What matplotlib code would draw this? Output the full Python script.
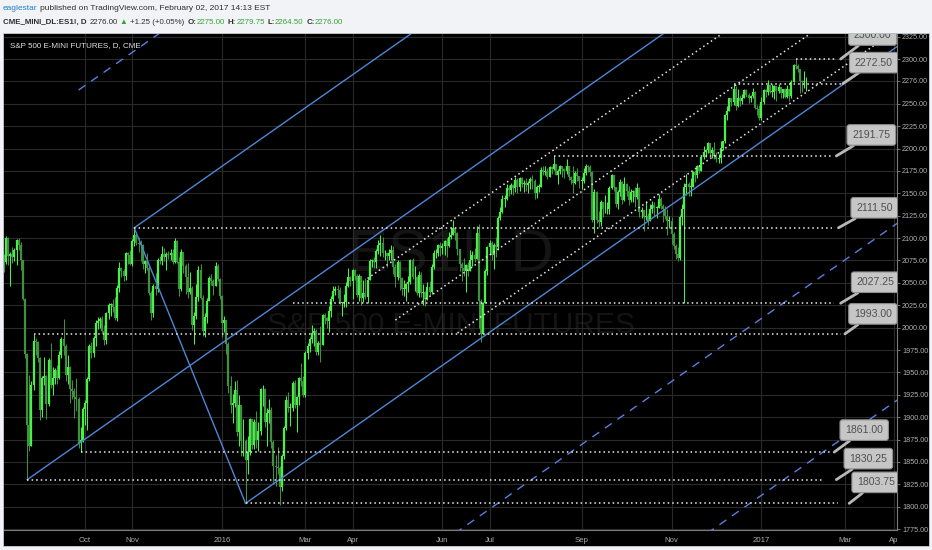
import matplotlib
matplotlib.use("Agg")
import matplotlib.pyplot as plt
from matplotlib.patches import Rectangle
import numpy as np
import pandas as pd

FONT = ["Liberation Sans", "DejaVu Sans"]
plt.rcParams["font.family"] = FONT

W, H = 932, 550

# trading calendar (CME closed days skipped)
holidays = ["2015-09-07", "2015-11-26", "2015-12-25", "2016-01-01", "2016-01-18",
            "2016-02-15", "2016-03-25", "2016-05-30", "2016-07-04", "2016-09-05",
            "2016-11-24", "2016-12-26", "2017-01-02", "2017-01-16", "2017-02-20"]
first_day = "2015-08-07"
first_open = 2080

# daily closes, ES1!
close = [
    # 2015 Aug
    2073, 2100, 2080, 2082, 2079, 2087, 2098, 2092, 2075, 2032, 1971, 1891, 1868, 1936, 1985, 1984, 1966,
    # Sep
    1908, 1944, 1946, 1915, 1964, 1936, 1944, 1953, 1944, 1970, 1987, 1980, 1947, 1956, 1932, 1929, 1922, 1920, 1871, 1874, 1909,
    # Oct
    1916, 1943, 1979, 1972, 1988, 2005, 2007, 2010, 1996, 1986, 2016, 2025, 2026, 2023, 2011, 2044, 2067, 2063, 2058, 2083, 2081, 2071,
    # Nov
    2097, 2103, 2095, 2093, 2092, 2071, 2074, 2067, 2039, 2016, 2046, 2043, 2076, 2074, 2082, 2079, 2082, 2081, 2083, 2073,
    # Dec
    2097, 2073, 2043, 2085, 2069, 2056, 2040, 2044, 2003, 2013, 2034, 2064, 2033, 1996, 2012, 2030, 2055, 2052, 2047, 2069, 2054, 2035,
    # 2016 Jan
    2005, 2008, 1982, 1935, 1914, 1916, 1930, 1883, 1914, 1873, 1873, 1852, 1861, 1898, 1869, 1895, 1875, 1885, 1931,
    # Feb
    1931, 1895, 1905, 1908, 1872, 1845, 1844, 1843, 1822, 1857, 1888, 1919, 1910, 1910, 1938, 1914, 1922, 1944, 1940, 1925,
    # Mar
    1972, 1980, 1987, 1994, 1996, 1973, 1983, 1981, 2014, 2011, 2007, 2019, 2032, 2041, 2043, 2042, 2028, 2028, 2029, 2047, 2056, 2052,
    # Apr
    2064, 2058, 2037, 2058, 2033, 2039, 2034, 2053, 2074, 2075, 2073, 2086, 2092, 2094, 2083, 2083, 2080, 2083, 2087, 2068, 2057,
    # May
    2073, 2055, 2043, 2043, 2049, 2051, 2076, 2056, 2056, 2039, 2059, 2039, 2040, 2032, 2045, 2040, 2068, 2083, 2083, 2092, 2089,
    # Jun
    2091, 2097, 2091, 2101, 2104, 2111, 2106, 2088, 2071, 2067, 2063, 2070, 2063, 2075, 2081, 2077, 2106, 2030, 1993, 2028, 2063, 2090,
    # Jul
    2095, 2081, 2092, 2090, 2122, 2129, 2144, 2144, 2156, 2154, 2159, 2156, 2165, 2157, 2167, 2160, 2161, 2159, 2162, 2166,
    # Aug
    2164, 2150, 2157, 2157, 2176, 2174, 2175, 2168, 2179, 2177, 2183, 2171, 2175, 2180, 2177, 2175, 2180, 2168, 2165, 2162, 2173, 2169, 2164,
    # Sep
    2164, 2173, 2180, 2179, 2174, 2120, 2151, 2120, 2118, 2140, 2132, 2132, 2133, 2156, 2170, 2157, 2138, 2152, 2163, 2143, 2160,
    # Oct
    2153, 2143, 2152, 2153, 2146, 2156, 2129, 2131, 2124, 2125, 2119, 2132, 2137, 2134, 2134, 2144, 2136, 2132, 2125, 2119, 2119,
    # Nov
    2105, 2091, 2082, 2078, 2124, 2132, 2157, 2160, 2157, 2157, 2174, 2170, 2180, 2175, 2191, 2196, 2198, 2206, 2195, 2198, 2192,
    # Dec
    2188, 2189, 2201, 2208, 2237, 2242, 2256, 2252, 2266, 2248, 2257, 2253, 2257, 2265, 2260, 2256, 2259, 2263, 2245, 2244, 2234,
    # 2017 Jan
    2252, 2265, 2263, 2271, 2263, 2263, 2270, 2264, 2269, 2262, 2266, 2258, 2266, 2259, 2274, 2293, 2292, 2289, 2275, 2274,
    # Feb
    2275, 2276,
]

high = [
    2082, 2102, 2101, 2085, 2090, 2089, 2099, 2100, 2096, 2076, 2033, 1972, 1947, 1940, 1993, 1988, 1985,
    1967, 1946, 1967, 1947, 1966, 1983, 1956, 1955, 1958, 1974, 1990, 2010, 1982, 1970, 1957, 1941, 1933, 1944, 1922, 1889, 1911,
    1919, 1945, 1982, 1984, 1991, 2008, 2012, 2012, 2013, 2003, 2018, 2027, 2027, 2032, 2034, 2048, 2073, 2068, 2066, 2085, 2085, 2087,
    2099, 2111.5, 2107, 2101, 2098, 2093, 2076, 2083, 2069, 2041, 2049, 2061, 2078, 2080, 2091, 2089, 2084, 2086, 2088, 2088,
    2100, 2098, 2079, 2088, 2085, 2071, 2072, 2062, 2046, 2017, 2049, 2069, 2071, 2036, 2016, 2033, 2058, 2060, 2054, 2073, 2071, 2055,
    2036, 2013, 2009, 1984, 1946, 1926, 1940, 1942, 1925, 1913, 1898, 1876, 1879, 1899, 1898, 1898, 1907, 1895, 1933,
    1936, 1933, 1910, 1920, 1911, 1874, 1858, 1867, 1845, 1859, 1890, 1924, 1928, 1916, 1940, 1941, 1924, 1945, 1960, 1946,
    1974, 1983, 1990, 2003, 2000, 1998, 1985, 2002, 2015, 2016, 2012, 2024, 2035, 2046, 2047, 2048, 2045, 2029, 2038, 2051, 2067, 2058,
    2066, 2066, 2060, 2060, 2053, 2053, 2055, 2055, 2077, 2077, 2079, 2088, 2098, 2104, 2101, 2087, 2082, 2088, 2092, 2091, 2071,
    2075, 2074, 2057, 2053, 2050, 2058, 2077, 2078, 2069, 2058, 2063, 2062, 2049, 2041, 2051, 2052, 2071, 2087, 2088, 2093, 2096,
    2095, 2098, 2100, 2107, 2112, 2120, 2111, 2107, 2088, 2073, 2078, 2071, 2073, 2087, 2086, 2089, 2113, 2116, 2032, 2029, 2065, 2091,
    2098, 2097, 2094, 2101, 2125, 2135, 2148, 2148, 2160, 2159, 2161, 2160, 2168, 2167, 2168, 2168, 2165, 2167, 2164, 2168,
    2171, 2166, 2159, 2160, 2179, 2180, 2180, 2178, 2181, 2181, 2191.75, 2183, 2177, 2182, 2180, 2178, 2188, 2180, 2169, 2180, 2175, 2178, 2168,
    2168, 2178, 2183, 2182, 2182, 2175, 2155, 2153, 2130, 2143, 2140, 2148, 2140, 2158, 2172, 2169, 2156, 2154, 2166, 2164, 2168,
    2162, 2158, 2155, 2154, 2157, 2162, 2157, 2135, 2130, 2141, 2128, 2138, 2141, 2140, 2136, 2149, 2146, 2138, 2136, 2132, 2125,
    2124, 2107, 2093, 2090, 2126, 2138, 2161, 2172, 2163, 2167, 2175, 2176, 2182, 2181, 2192, 2203, 2199, 2207, 2205, 2202, 2207,
    2196, 2194, 2208, 2209, 2239, 2247, 2257, 2257, 2272.5, 2270, 2266, 2260, 2261, 2267, 2266, 2262, 2260, 2268, 2264, 2249, 2249,
    2258, 2266, 2266, 2277, 2271, 2272, 2271, 2270, 2272, 2267, 2267, 2268, 2271, 2267, 2277, 2294, 2300, 2294, 2288, 2277,
    2287, 2279.75,
]

low = [
    2062, 2071, 2070, 2046, 2072, 2074, 2070, 2087, 2064, 2031, 1966, 1830.25, 1862, 1868, 1930, 1970, 1962,
    1897, 1900, 1936, 1898, 1912, 1933, 1925, 1937, 1937, 1943, 1966, 1970, 1940, 1937, 1916, 1920, 1899, 1907, 1866, 1861, 1872,
    1891, 1886, 1940, 1966, 1967, 1979, 1999, 2000, 1994, 1981, 1982, 2010, 2013, 2018, 2008, 2007, 2040, 2056, 2052, 2053, 2071, 2070,
    2069, 2091, 2092, 2085, 2074, 2065, 2061, 2064, 2036, 2008, 2012, 2037, 2040, 2071, 2070, 2074, 2064, 2077, 2076, 2071,
    2072, 2072, 2035, 2041, 2061, 2038, 2033, 2038, 1997, 1982, 2010, 2030, 2032, 1991, 1990, 2005, 2030, 2048, 2036, 2046, 2052, 2032,
    1990, 1995, 1971, 1927, 1905, 1893, 1911, 1879, 1868, 1857, 1857, 1803.75, 1836, 1858, 1865, 1864, 1866, 1862, 1880,
    1912, 1889, 1868, 1893, 1866, 1825, 1823, 1837, 1802, 1818, 1853, 1886, 1906, 1890, 1907, 1910, 1883, 1914, 1935, 1922,
    1922, 1965, 1973, 1983, 1979, 1970, 1969, 1962, 1993, 2004, 2000, 1995, 2012, 2030, 2036, 2033, 2026, 2013, 2023, 2023, 2045, 2047,
    2032, 2053, 2034, 2030, 2025, 2029, 2032, 2027, 2053, 2068, 2067, 2067, 2082, 2080, 2079, 2075, 2068, 2076, 2075, 2060, 2045,
    2053, 2042, 2036, 2035, 2030, 2040, 2049, 2054, 2041, 2036, 2034, 2034, 2025, 2024, 2031, 2037, 2038, 2066, 2078, 2080, 2080,
    2082, 2081, 2079, 2090, 2099, 2103, 2098, 2081, 2063, 2052, 2058, 2040, 2058, 2064, 2069, 2073, 2079, 2000, 1984, 1998, 2029, 2059,
    2082, 2075, 2065, 2079, 2087, 2120, 2128, 2135, 2143, 2147, 2149, 2148, 2152, 2150, 2153, 2157, 2152, 2153, 2150, 2155,
    2155, 2144, 2145, 2151, 2157, 2170, 2171, 2166, 2168, 2172, 2176, 2170, 2160, 2172, 2168, 2167, 2172, 2165, 2160, 2150, 2160, 2164, 2156,
    2155, 2162, 2170, 2174, 2169, 2118, 2106, 2117, 2112, 2114, 2124, 2128, 2127, 2127, 2155, 2153, 2135, 2132, 2147, 2138, 2141,
    2147, 2137, 2140, 2140, 2135, 2144, 2124, 2122, 2108, 2120, 2115, 2119, 2128, 2125, 2123, 2134, 2133, 2118, 2121, 2104, 2111,
    2093, 2088, 2077, 2074, 2076, 2115, 2027.25, 2148, 2147, 2147, 2158, 2163, 2167, 2173, 2176, 2188, 2191, 2195, 2193, 2190, 2188,
    2185, 2184, 2184, 2198, 2206, 2232, 2242, 2248, 2249, 2243, 2246, 2248, 2250, 2256, 2258, 2251, 2252, 2257, 2244, 2237, 2232,
    2232, 2250, 2258, 2260, 2262, 2258, 2255, 2253, 2262, 2257, 2257, 2256, 2257, 2253, 2256, 2275, 2289, 2285, 2262, 2263,
    2268, 2264.5,
]

# time axis labels
month_ticks = ["2015-10-01", "2015-11-02", "2016-01-04", "2016-03-01", "2016-04-01", "2016-06-01",
               "2016-07-01", "2016-09-01", "2016-11-01", "2017-01-03", "2017-03-01", "2017-04-03"]
month_labels = ["Oct", "Nov", "2016", "Mar", "Apr", "Jun", "Jul", "Sep", "Nov", "2017", "Mar", "Ap"]
price_ticks = [1775, 1800, 1825, 1850, 1875, 1900, 1925, 1950, 1975, 2000, 2025, 2050, 2075,
               2100, 2125, 2150, 2175, 2200, 2225, 2250, 2276, 2300, 2325]

# pitchfork pivots (blue)
fork_dates = ["2015-08-24", "2015-11-03", "2016-01-20"]
fork_prices = [1830.25, 2111.50, 1803.75]
fork_levels = [2, -2, -3]

# white dotted channel
chan_dates = ["2016-04-12", "2016-04-29", "2016-06-10"]
chan_prices = [2055.0, 2008.5, 1994.0]
chan_slope = 1.65

# horizontal levels + callouts
levels = [2300.00, 2272.50, 2191.75, 2111.50, 2027.25, 1993.00, 1861.00, 1830.25, 1803.75]
level_start = ["2017-01-26", "2016-12-13", "2016-08-15", "2015-11-03", "2016-02-22",
               "2015-08-27", "2015-09-29", "2015-08-24", "2016-01-20"]
level_end = ["2017-02-23", "2017-02-27", "2017-02-21", "2017-02-21", "2017-02-22",
             "2017-02-27", "2017-02-21", "2017-02-14", "2017-02-24"]
level_tip = ["2017-02-27", "2017-02-28", "2017-02-23", "2017-02-24", "2017-02-27",
             "2017-03-01", "2017-02-22", "2017-02-23", "2017-03-03"]
label_shift = [(32, 24), (31, 21), (35, 21), (36, 20), (35, 21), (28, 20), (30, 22), (32, 21), (27, 21)]

days = pd.bdate_range(first_day, "2017-04-14", freq="C", holidays=holidays)
pos = {d.strftime("%Y-%m-%d"): i for i, d in enumerate(days)}

close = np.array(close, dtype=float)
high = np.array(high, dtype=float)
low = np.array(low, dtype=float)
opn = np.concatenate([[first_open], close[:-1]])
high = np.maximum(high, np.maximum(opn, close))
low = np.minimum(low, np.minimum(opn, close))
x = np.arange(len(close))

fig = plt.figure(figsize=(W / 100, H / 100), dpi=100, facecolor="#f1f3f6")
fig.patches.append(Rectangle((3 / W, 1 - 546 / H), 926 / W, 513 / H, transform=fig.transFigure,
                             facecolor="black", edgecolor="#c9ccd1", lw=0.6, zorder=-5))
ax = fig.add_axes([4 / W, 1 - 530 / H, 893 / W, 496.5 / H])
ax.set_facecolor("black")
ax.set_xlim(0.16, 417.34)
ax.set_ylim(1774.0, 2328.5)

# watermark
ax.text(0.5, 0.552, "ES1!, D", transform=ax.transAxes, ha="center", va="center",
        fontsize=43, color="#141414", zorder=0.5)
ax.text(0.5, 0.413, "S&P 500 E-MINI FUTURES", transform=ax.transAxes, ha="center", va="center",
        fontsize=21.5, color="#141414", zorder=0.5)

# candles
up = close >= opn
cols = np.where(up, "#45f245", "#3f913f")
ax.vlines(x, low, high, colors=cols, lw=0.75, zorder=3)
btm = np.minimum(opn, close)
top = np.maximum(np.maximum(opn, close), btm + 0.9)
ax.vlines(x, btm, top, colors=cols, lw=1.6, zorder=3)

XR = 440
blue = "#4f86d6"
dots = (0, (1, 2.0))

def ray(x0, y0, slope, **kw):
    ax.plot([x0, XR], [y0, y0 + slope * (XR - x0)], **kw)

# pitchfork
xa, xb, xc = [pos[d] for d in fork_dates]
ya, yb, yc = fork_prices
mx, my = (xb + xc) / 2, (yb + yc) / 2
fs = (my - ya) / (mx - xa)
for px_, py_ in [(xa, ya), (xb, yb), (xc, yc)]:
    ray(px_, py_, fs, color=blue, lw=1.0, zorder=4)
ax.plot([xb, xc], [yb, yc], color=blue, lw=1.0, zorder=4)
for k in fork_levels:
    ray(mx + k * (xb - mx), my + k * (yb - my), fs, color="#5b7fe0", lw=1.0,
        linestyle=(0, (6, 5)), zorder=4)

# dotted channel
for d, p in zip(chan_dates, chan_prices):
    ray(pos[d], p, chan_slope, color="#e6e6e6", lw=1.1, linestyle=dots, zorder=4)

# levels
for lv, s, e, t, (dx, dy) in zip(levels, level_start, level_end, level_tip, label_shift):
    ax.plot([pos[s], pos[e]], [lv, lv], color="#ededed", lw=1.1, linestyle=dots, zorder=4)
    ann = ax.annotate(f"{lv:.2f}", xy=(pos[t], lv), xytext=(dx * 0.72, dy * 0.72),
                      textcoords="offset points", ha="center", va="center", fontsize=7.6,
                      color="#505050", zorder=6, annotation_clip=False,
                      bbox=dict(boxstyle="round,pad=0.5,rounding_size=0.25", fc="#c6c6c6",
                                ec="#8e8e8e", lw=0.8),
                      arrowprops=dict(arrowstyle="-", color="#b8b8b8", lw=2.0,
                                      shrinkA=0, shrinkB=0))
    ann.set_clip_box(ax.bbox)
    ann.set_clip_on(True)

# axes styling
ax.set_xticks([pos[d] for d in month_ticks])
ax.set_xticklabels(month_labels)
ax.set_yticks(price_ticks)
ax.set_yticklabels([f"{v:.2f}" for v in price_ticks])
ax.yaxis.tick_right()
ax.grid(True, color="#2a2a2a", lw=0.8, zorder=0)
ax.set_axisbelow(True)
ax.tick_params(axis="y", colors="#8a8a8a", labelcolor="#b0b0b0", length=2.5, width=0.6,
               pad=1.2, labelsize=5.2)
ax.tick_params(axis="x", length=0, pad=5, labelsize=5.6, labelcolor="#b0b0b0")
for sp in ("left", "top"):
    ax.spines[sp].set_visible(False)
for sp in ("right", "bottom"):
    ax.spines[sp].set_color("#7a7a7a")
    ax.spines[sp].set_linewidth(0.8)

fig.text(10 / W, 1 - 46 / H, "S&P 500 E-MINI FUTURES, D, CME", color="#e0e0e0",
         fontsize=5.8, va="center", ha="left")

# header
renderer = fig.canvas.get_renderer()

def header(x0, y0, parts, size):
    xx = x0
    for s, col, wt, gap in parts:
        t = fig.text(xx / W, 1 - y0 / H, s, color=col, fontsize=size, fontweight=wt,
                     va="center", ha="left", family=FONT)
        xx += t.get_window_extent(renderer=renderer).width + gap

dark, green, bluetxt = "#2e2e2e", "#36a336", "#1f80c8"
header(3, 8, [("eaglestar", bluetxt, "normal", 2.5),
              ("published on TradingView.com, February 02, 2017 14:13 EST", dark, "normal", 0)], 6.0)
header(3, 22, [("CME_MINI_DL:ES1!, D", dark, "bold", 3),
               ("2276.00", dark, "normal", 2),
               ("\u25b2", green, "normal", 2),
               ("+1.25 (+0.05%)", dark, "normal", 4),
               ("O:", dark, "bold", 0), ("2275.00", green, "normal", 3),
               ("H:", dark, "bold", 0), ("2279.75", green, "normal", 3),
               ("L:", dark, "bold", 0), ("2264.50", green, "normal", 3),
               ("C:", dark, "bold", 0), ("2276.00", green, "normal", 0)], 5.7)

fig.savefig("out.png", dpi=100, facecolor=fig.get_facecolor())
